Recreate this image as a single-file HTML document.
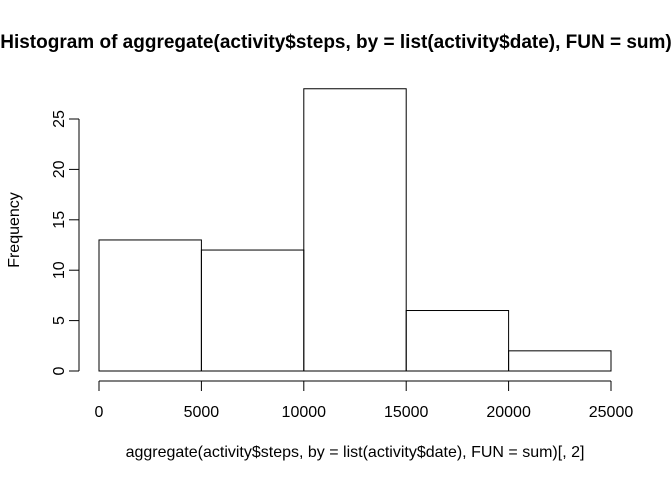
<!DOCTYPE html>
<html><head><meta charset="utf-8"><style>
html,body{margin:0;padding:0;background:#fff;overflow:hidden}
svg{display:block;font-family:"Liberation Sans",Arial,sans-serif}
</style></head><body>
<svg id="c" width="672" height="480" viewBox="0 0 672 480">
<text x="336" y="48" text-anchor="middle" font-size="19" font-weight="bold">Histogram of aggregate(activity$steps, by = list(activity$date), FUN = sum)</text>
<text x="355" y="457" text-anchor="middle" font-size="16">aggregate(activity$steps, by = list(activity$date), FUN = sum)[, 2]</text>
<text transform="translate(19,230) rotate(-90)" text-anchor="middle" font-size="16">Frequency</text>
<g id="bars"></g>
<g id="xax"></g>
<g id="yax"></g>
</svg>
<script>
const binEdges=[0,5000,10000,15000,20000,25000];
const counts=[13,12,28,6,2];
const xTicks=[0,5000,10000,15000,20000,25000];
const yTicks=[0,5,10,15,20,25];
const NS="http://www.w3.org/2000/svg";
const x=v=>99+v*(512/25000);
const y=v=>371-v*(252/25);
function mk(t,a,p){const e=document.createElementNS(NS,t);for(const k in a)e.setAttribute(k,a[k]);p.appendChild(e);return e;}
const bars=document.getElementById('bars');
counts.forEach((c,i)=>{
 const r=mk('rect',{x:x(binEdges[i]),y:y(c),width:x(binEdges[i+1])-x(binEdges[i]),height:y(0)-y(c),fill:'none',stroke:'#000','stroke-width':1},bars);
 
 
});
const xa=document.getElementById('xax');
mk('line',{x1:x(xTicks[0]),x2:x(xTicks[xTicks.length-1]),y1:381,y2:381,stroke:'#000'},xa);
xTicks.forEach(t=>{
 mk('line',{x1:x(t),x2:x(t),y1:381,y2:391,stroke:'#000'},xa);
 const tx=mk('text',{x:x(t),y:417,'text-anchor':'middle','font-size':16},xa);
 tx.textContent=t;
 
 
});
const ya=document.getElementById('yax');
mk('line',{x1:79,x2:79,y1:y(yTicks[0]),y2:y(yTicks[yTicks.length-1]),stroke:'#000'},ya);
yTicks.forEach(t=>{
 mk('line',{x1:69,x2:79,y1:y(t),y2:y(t),stroke:'#000'},ya);
 const tx=mk('text',{'text-anchor':'middle','font-size':16,transform:`translate(64,${y(t)}) rotate(-90)`},ya);
 tx.textContent=t;
 
 
});
</script>
</body></html>
